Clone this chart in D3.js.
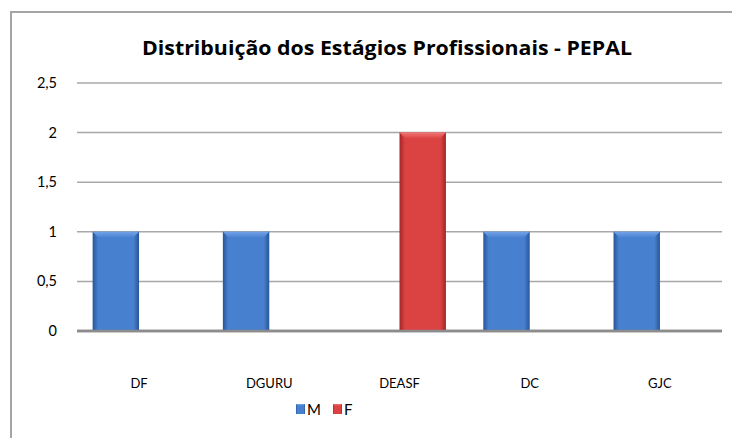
<!DOCTYPE html>
<html>
<head>
<meta charset="utf-8">
<script src="https://cdn.jsdelivr.net/npm/d3@7"></script>
<style>
  html, body { margin: 0; padding: 0; background: #fff; }
  svg { display: block; font-family: Lato, "Open Sans", sans-serif; }
</style>
</head>
<body>
<svg id="chart" width="732" height="438"></svg>
<script>
// dados
const categories = ["DF", "DGURU", "DEASF", "DC", "GJC"];
const seriesNames = ["M", "F"];
const valuesM = [1, 1, 0, 1, 1];
const valuesF = [0, 0, 2, 0, 0];
const yTicks = [0, 0.5, 1, 1.5, 2, 2.5];
const title = "Distribuição dos Estágios Profissionais - PEPAL";

const colors = {
  M: { edge: "#285597", mid: "#4880d0", light: "#72a3e8" },
  F: { edge: "#a52424", mid: "#db4343", light: "#f27474" }
};

const svg = d3.select("#chart");
const W = 732, H = 438;
const margin = { left: 77, right: 10, top: 83, bottom: 107 };

// moldura
svg.append("rect")
  .attr("x", 11).attr("y", 12)
  .attr("width", W + 20).attr("height", H + 20)
  .attr("fill", "#fff")
  .attr("stroke", "#a5a5a5")
  .attr("stroke-width", 2);

svg.append("text")
  .attr("x", 142).attr("y", 55)
  .attr("font-family", "'Open Sans', Lato, sans-serif")
  .attr("font-weight", "bold")
  .attr("font-size", 20)
  .attr("textLength", 490)
  .attr("lengthAdjust", "spacingAndGlyphs")
  .attr("fill", "#000")
  .text(title);

const x0 = d3.scaleBand()
  .domain(categories)
  .range([margin.left, W - margin.right])
  .paddingInner(0.287)
  .paddingOuter(0.12);

const x1 = d3.scaleBand()
  .domain(seriesNames)
  .range([0, x0.bandwidth()]);

const y = d3.scaleLinear()
  .domain([0, 2.5])
  .range([H - margin.bottom, margin.top]);

const fmt = v => String(v).replace(".", ",");

// gradientes
const defs = svg.append("defs");
seriesNames.forEach(s => {
  const c = colors[s];
  const g = defs.append("linearGradient").attr("id", "grad-" + s)
    .attr("x1", "0%").attr("x2", "100%").attr("y1", "0%").attr("y2", "0%");
  g.append("stop").attr("offset", "0%").attr("stop-color", c.edge);
  g.append("stop").attr("offset", "12%").attr("stop-color", c.mid);
  g.append("stop").attr("offset", "88%").attr("stop-color", c.mid);
  g.append("stop").attr("offset", "100%").attr("stop-color", c.edge);

  const t = defs.append("linearGradient").attr("id", "top-" + s)
    .attr("x1", "0%").attr("x2", "0%").attr("y1", "0%").attr("y2", "100%");
  t.append("stop").attr("offset", "0%").attr("stop-color", c.light);
  t.append("stop").attr("offset", "100%").attr("stop-color", c.mid);
});

// grelha
svg.append("g")
  .selectAll("line")
  .data(yTicks)
  .join("line")
  .attr("x1", margin.left).attr("x2", W - margin.right)
  .attr("y1", d => y(d)).attr("y2", d => y(d))
  .attr("stroke", d => d === 0 ? "#8c8c8c" : "#a8a8a8")
  .attr("stroke-width", d => d === 0 ? 2.5 : 1.5);

svg.append("g")
  .selectAll("text")
  .data(yTicks)
  .join("text")
  .attr("x", 57)
  .attr("y", d => y(d))
  .attr("dy", "0.35em")
  .attr("text-anchor", "end")
  .attr("font-size", 14.5)
  .attr("fill", "#000")
  .text(fmt);

// barras
const rows = categories.map((c, i) => ({ cat: c, M: valuesM[i], F: valuesF[i] }));

const groups = svg.append("g")
  .selectAll("g")
  .data(rows)
  .join("g")
  .attr("transform", d => `translate(${x0(d.cat)},0)`);

const bars = groups.selectAll("g.bar")
  .data(d => seriesNames.map(s => ({ s, v: d[s] })).filter(b => b.v > 0))
  .join("g").attr("class", "bar");

bars.append("rect")
  .attr("x", d => x1(d.s))
  .attr("width", x1.bandwidth())
  .attr("y", d => y(d.v))
  .attr("height", d => y(0) - y(d.v))
  .attr("fill", d => `url(#grad-${d.s})`);

// bisel superior
bars.append("path")
  .attr("d", d => {
    const xa = x1(d.s), w = x1.bandwidth(), ya = y(d.v), b = 6;
    return `M${xa},${ya}H${xa + w}L${xa + w - b},${ya + b}H${xa + b}Z`;
  })
  .attr("fill", d => `url(#top-${d.s})`);

svg.append("line")
  .attr("x1", margin.left).attr("x2", W - margin.right)
  .attr("y1", y(0)).attr("y2", y(0))
  .attr("stroke", "#8c8c8c").attr("stroke-width", 2.5);

// rótulos das categorias
svg.append("g")
  .selectAll("text")
  .data(categories)
  .join("text")
  .attr("x", d => x0(d) + x0.bandwidth() / 2)
  .attr("y", 388)
  .attr("text-anchor", "middle")
  .attr("font-size", 13)
  .attr("fill", "#000")
  .text(d => d);

// legenda
const legend = svg.append("g");
const legendX = [296, 333];
seriesNames.forEach((s, i) => {
  const lg = legend.append("g").attr("transform", `translate(${legendX[i]},404)`);
  lg.append("rect").attr("width", 9).attr("height", 10)
    .attr("fill", `url(#grad-${s})`);
  lg.append("path").attr("d", "M0,0H9L7,2H2Z").attr("fill", `url(#top-${s})`);
  lg.append("text").attr("x", 11).attr("y", 11)
    .attr("font-size", 15).attr("fill", "#000").text(s);
});
</script>
</body>
</html>
